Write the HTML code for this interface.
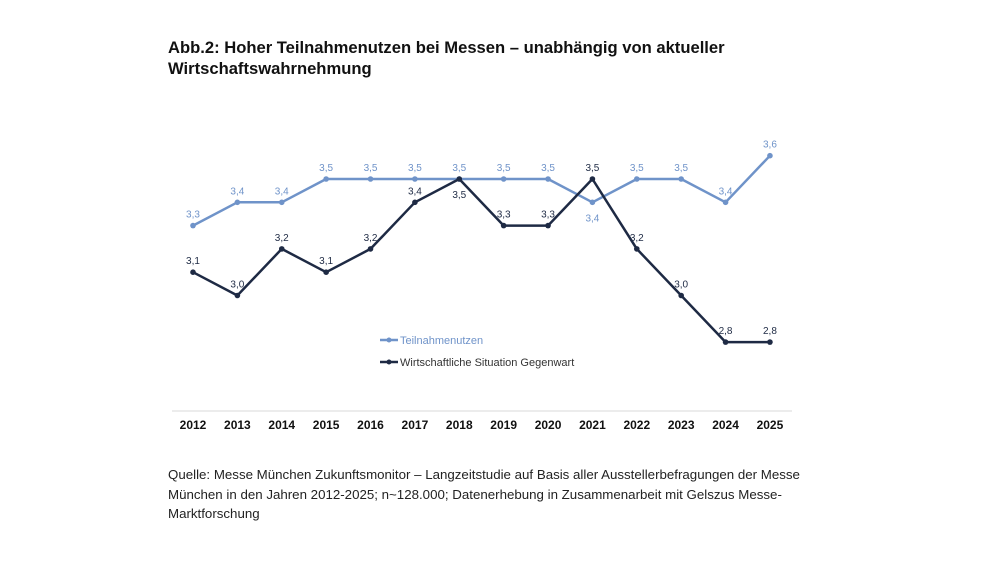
<!DOCTYPE html>
<html><head><meta charset="utf-8"><style>
body{margin:0;background:#fff;width:1000px;height:563px;overflow:hidden;font-family:"Liberation Sans",Arial,sans-serif}
</style></head><body>
<svg width="1000" height="563" xmlns="http://www.w3.org/2000/svg" font-family="Liberation Sans, Arial, sans-serif">
<text x="168" y="53" font-size="16.6" font-weight="bold" fill="#111">Abb.2: Hoher Teilnahmenutzen bei Messen – unabhängig von aktueller</text>
<text x="168" y="74" font-size="16.6" font-weight="bold" fill="#111">Wirtschaftswahrnehmung</text>
<line x1="172" y1="411" x2="792" y2="411" stroke="#d9d9d9" stroke-width="1"/>
<g id="c"></g>
<g font-size="11" fill="#333">
<line x1="380" y1="340" x2="398" y2="340" stroke="#6f93c9" stroke-width="2.5"/><circle cx="389" cy="340" r="2.5" fill="#6f93c9"/>
<text x="400" y="344" fill="#6f93c9">Teilnahmenutzen</text>
<line x1="380" y1="362" x2="398" y2="362" stroke="#1e2a44" stroke-width="2.5"/><circle cx="389" cy="362" r="2.5" fill="#1e2a44"/>
<text x="400" y="366">Wirtschaftliche Situation Gegenwart</text>
</g>
<g font-size="13.3" fill="#222">
<text x="168" y="479">Quelle: Messe München Zukunftsmonitor – Langzeitstudie auf Basis aller Ausstellerbefragungen der Messe</text>
<text x="168" y="499">München in den Jahren 2012-2025; n~128.000; Datenerhebung in Zusammenarbeit mit Gelszus Messe-</text>
<text x="168" y="518">Marktforschung</text>
</g>
</svg>
<script>
const L=[3.3,3.4,3.4,3.5,3.5,3.5,3.5,3.5,3.5,3.4,3.5,3.5,3.4,3.6];
const D=[3.1,3.0,3.2,3.1,3.2,3.4,3.5,3.3,3.3,3.5,3.2,3.0,2.8,2.8];
const X=i=>193+i*44.38, Y=v=>179-(v-3.5)*233;
let s='';
function series(a,col,below){
 s+=`<polyline fill="none" stroke="${col}" stroke-width="2.5" stroke-linejoin="round" points="${a.map((v,i)=>X(i)+','+Y(v)).join(' ')}"/>`;
 a.forEach((v,i)=>{const b=below.includes(i);
  s+=`<circle cx="${X(i)}" cy="${Y(v)}" r="2.8" fill="${col}"/>`;
  s+=`<text x="${X(i)}" y="${Y(v)+(b?19:-8)}" font-size="10" text-anchor="middle" fill="${col}">${v.toFixed(1).replace('.',',')}</text>`;});
}
series(L,'#6f93c9',[9]);
series(D,'#1e2a44',[6]);
for(let i=0;i<14;i++)s+=`<text x="${X(i)}" y="429" font-size="12" font-weight="bold" text-anchor="middle" fill="#111">${2012+i}</text>`;
document.getElementById('c').innerHTML=s;
</script>
</body></html>
